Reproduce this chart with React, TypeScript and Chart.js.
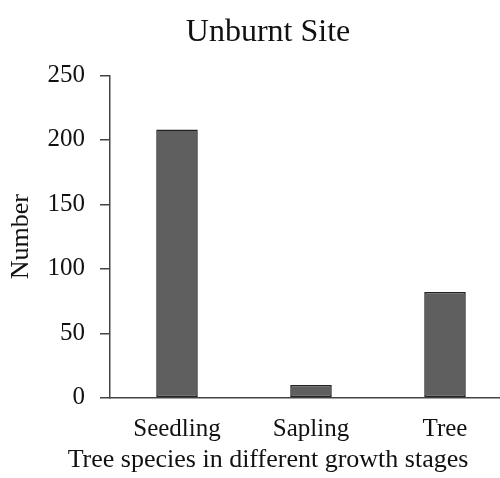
import React, { useEffect, useRef } from "react";
import { Chart, registerables } from "chart.js";

Chart.register(...registerables);

const categories = ["Seedling", "Sapling", "Tree"];
const counts = [208, 10, 82];
const yTicks = [0, 50, 100, 150, 200, 250];

const FONT = "'Liberation Serif', 'Times New Roman', serif";

export default function App() {
  const ref = useRef<HTMLCanvasElement | null>(null);
  useEffect(() => {
    if (!ref.current) return;
    const chart = new Chart(ref.current, {
      type: "bar",
      data: {
        labels: categories,
        datasets: [
          {
            data: counts,
            backgroundColor: "#5f5f5f",
            borderColor: "#222",
            borderWidth: 1.5,
            borderSkipped: false,
            barPercentage: 0.31,
            categoryPercentage: 1,
          },
        ],
      },
      options: {
        animation: false,
        responsive: false,
        maintainAspectRatio: false,
        layout: { padding: { top: 8, right: 3, bottom: 0, left: 24 } },
        plugins: {
          legend: { display: false },
          tooltip: { enabled: false },
          title: {
            display: true,
            text: "Unburnt Site",
            color: "#111",
            font: { family: FONT, size: 32, weight: "normal" },
            padding: { top: 5, bottom: 24 },
          },
          subtitle: {
            display: true,
            position: "bottom",
            text: "Tree species in different growth stages",
            color: "#111",
            font: { family: FONT, size: 26, weight: "normal" },
            padding: { top: 0, bottom: 2 },
          },
        },
        scales: {
          x: {
            grid: { display: false, drawTicks: false },
            border: { display: true, color: "#444", width: 1.5 },
            afterFit: (axis: any) => {
              axis.height = 47;
            },
            ticks: {
              color: "#111",
              font: { family: FONT, size: 25 },
              padding: 17,
            },
          },
          y: {
            min: 0,
            max: 250,
            afterBuildTicks: (axis: any) => {
              axis.ticks = yTicks.map((v) => ({ value: v }));
            },
            afterFit: (axis: any) => {
              axis.width = 86;
            },
            grid: {
              display: true,
              drawOnChartArea: false,
              drawTicks: true,
              tickLength: 10,
              color: "#444",
              lineWidth: 1.5,
            },
            border: { display: true, color: "#444", width: 1.5 },
            ticks: {
              color: "#111",
              font: { family: FONT, size: 25 },
              padding: 15,
            },
            title: {
              display: true,
              text: "Number",
              color: "#111",
              font: { family: FONT, size: 26 },
              padding: { top: -18, bottom: 0 },
            },
          },
        },
      },
    });
    return () => chart.destroy();
  }, []);
  return (
    <div
      style={{
        position: "fixed",
        left: 0,
        top: 0,
        width: 500,
        height: 478,
        overflow: "hidden",
        background: "#fff",
      }}
    >
      <canvas ref={ref} width={515} height={478} style={{ display: "block" }} />
    </div>
  );
}
